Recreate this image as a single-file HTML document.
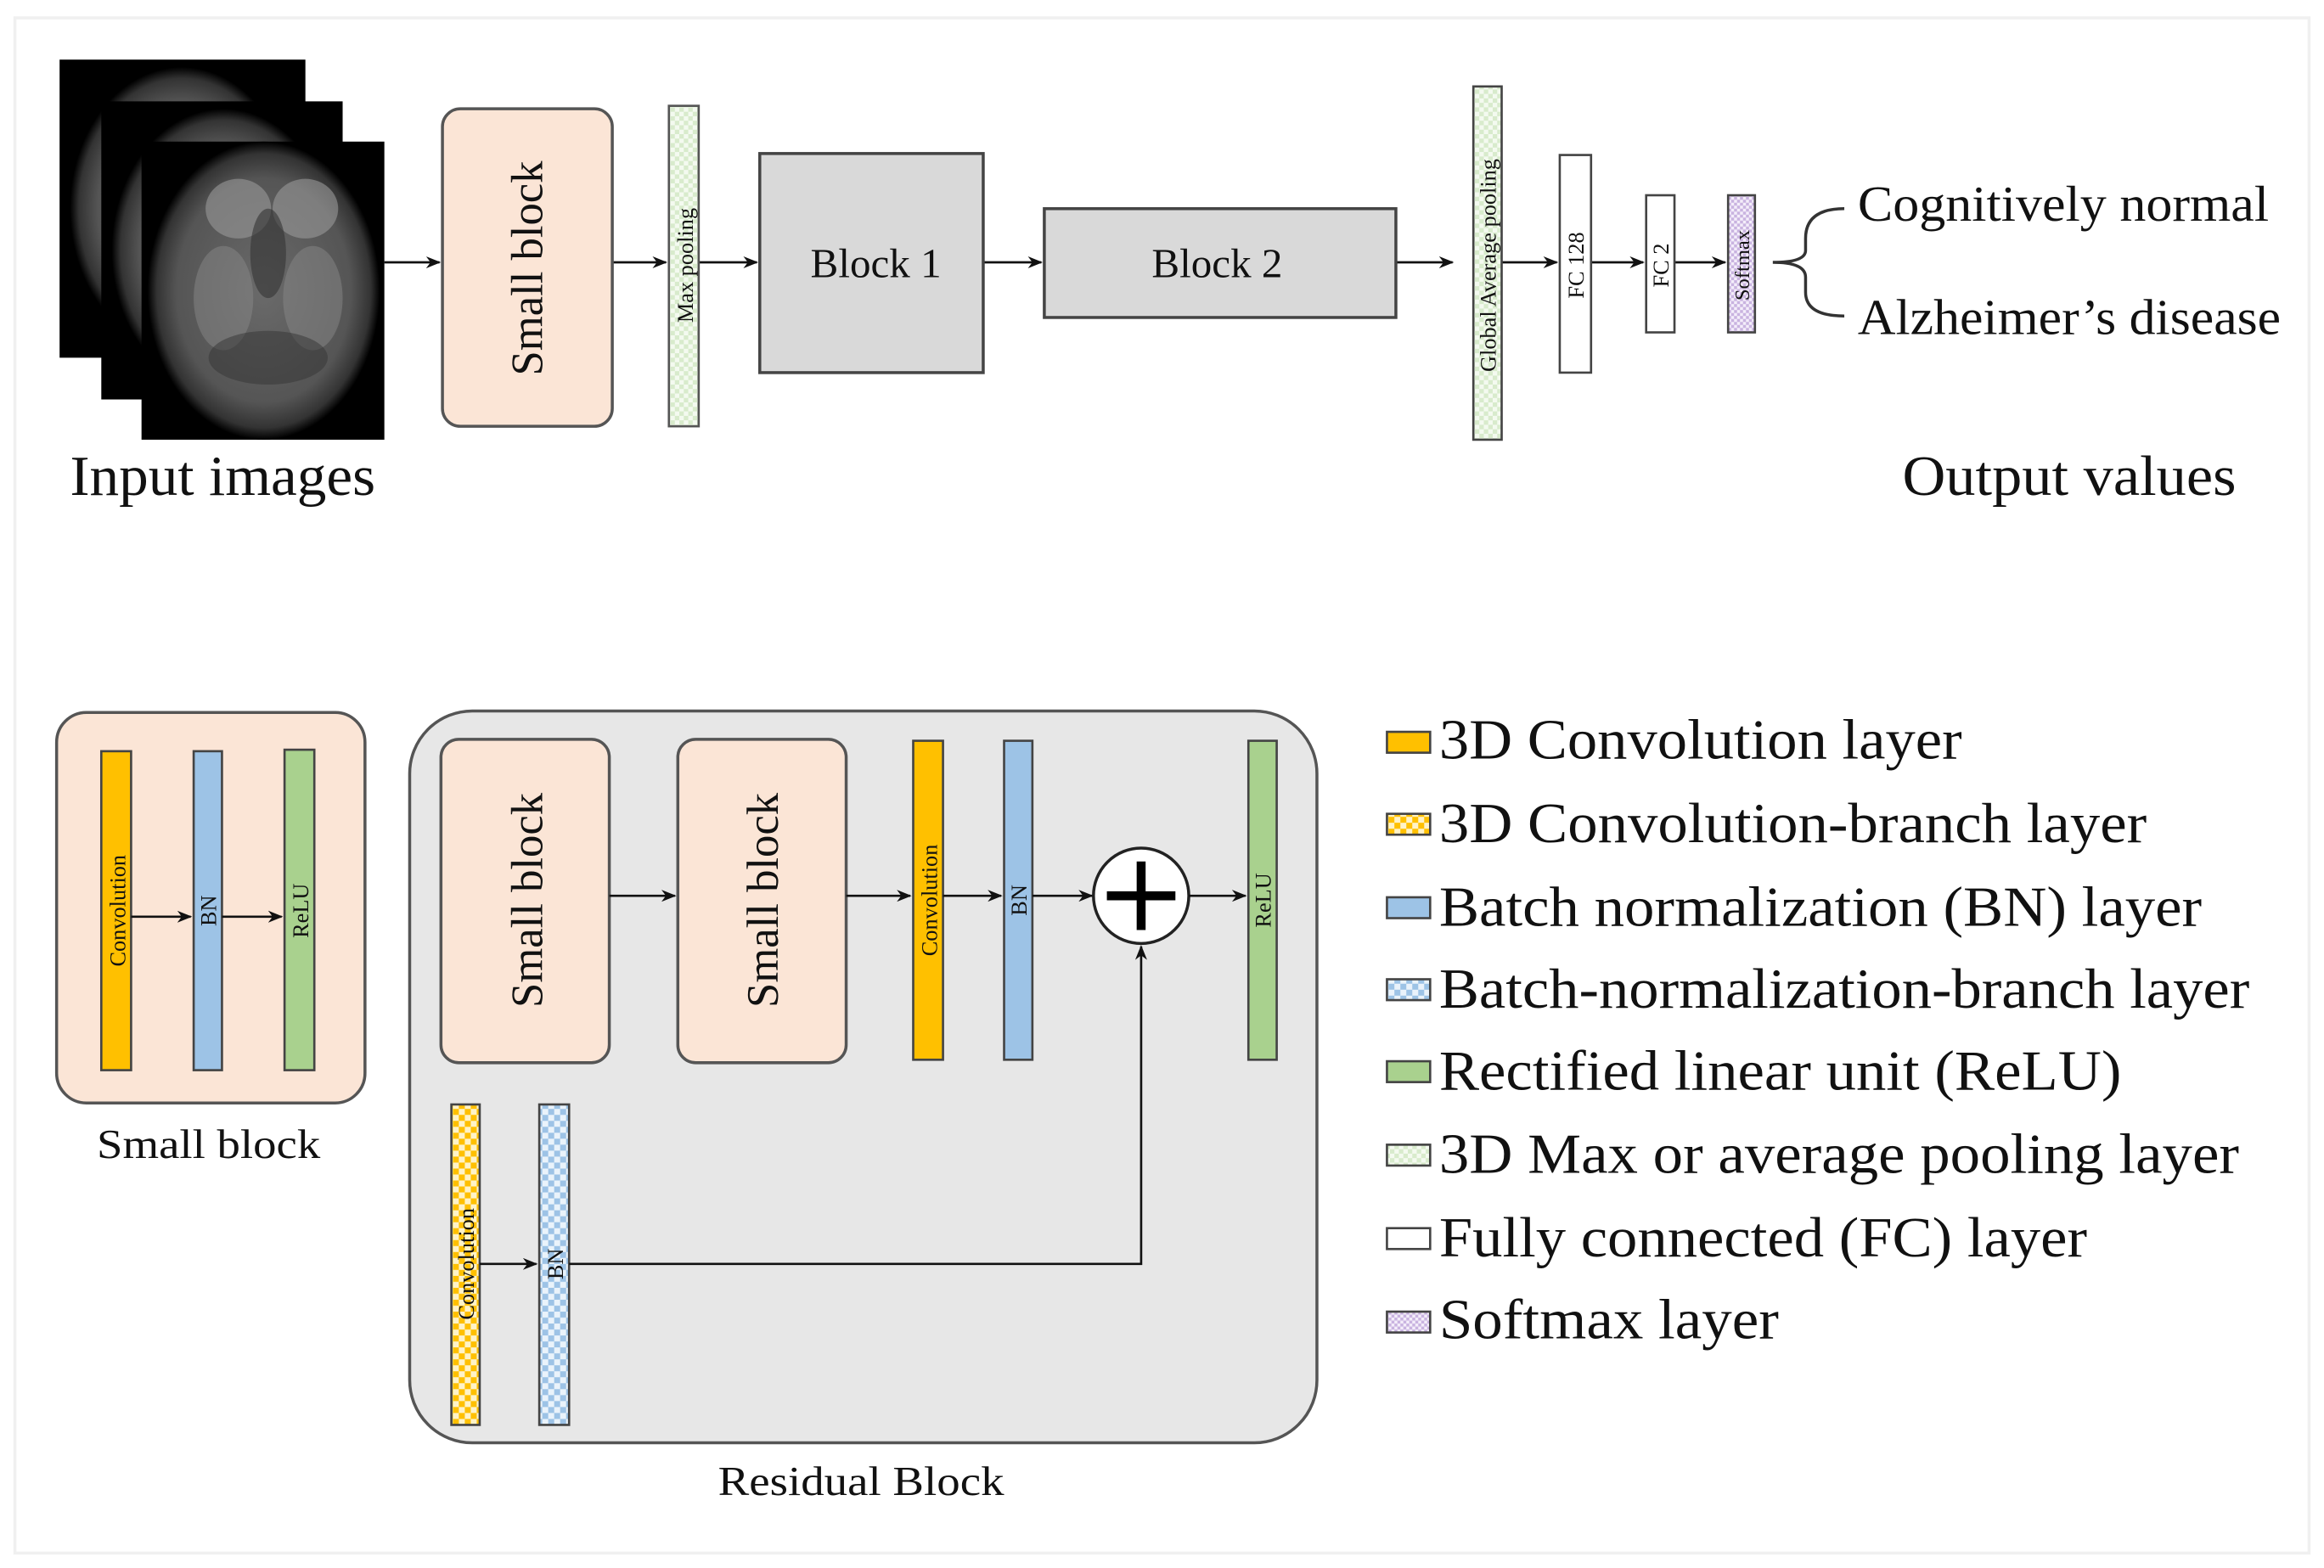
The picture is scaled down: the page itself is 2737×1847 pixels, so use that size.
<!DOCTYPE html>
<html><head><meta charset="utf-8"><style>
html,body{margin:0;padding:0;background:#fff;}
svg{display:block;}
text{font-family:"Liberation Serif",serif;fill:#111;}
</style></head><body>
<svg width="2737" height="1847" viewBox="0 0 1560 1052" preserveAspectRatio="none" xmlns="http://www.w3.org/2000/svg">
<defs>
<marker id="a" markerWidth="10" markerHeight="8" refX="9" refY="4" orient="auto" markerUnits="userSpaceOnUse"><path d="M0,0 L10,4 L0,8 L3,4z" fill="#111"/></marker>
<pattern id="pg" width="6" height="6" patternUnits="userSpaceOnUse"><rect width="6" height="6" fill="#f4faf0"/><rect width="3" height="3" fill="#d8ebcc"/><rect x="3" y="3" width="3" height="3" fill="#d8ebcc"/></pattern>
<pattern id="po" width="8" height="8" patternUnits="userSpaceOnUse"><rect width="8" height="8" fill="#fff3c8"/><rect width="4" height="4" fill="#ffc000"/><rect x="4" y="4" width="4" height="4" fill="#ffc000"/></pattern>
<pattern id="pb" width="8" height="8" patternUnits="userSpaceOnUse"><rect width="8" height="8" fill="#eaf3fb"/><rect width="4" height="4" fill="#9dc3e6"/><rect x="4" y="4" width="4" height="4" fill="#9dc3e6"/></pattern>
<pattern id="pp" width="4" height="4" patternUnits="userSpaceOnUse"><rect width="4" height="4" fill="#f4eefa"/><rect width="2" height="2" fill="#c9b3e0"/><rect x="2" y="2" width="2" height="2" fill="#c9b3e0"/></pattern>
<radialGradient id="br" cx="50%" cy="50%" r="50%"><stop offset="0" stop-color="#6a6a6a"/><stop offset="0.75" stop-color="#555"/><stop offset="0.92" stop-color="#333"/><stop offset="1" stop-color="#000"/></radialGradient>
</defs>
<rect x="10" y="12" width="1540" height="1030" fill="none" stroke="#f0f0f0" stroke-width="2"/>
<rect x="40" y="40" width="165" height="200" fill="#000"/><ellipse cx="122" cy="140" rx="75" ry="95" fill="url(#br)"/>
<rect x="68" y="68" width="162" height="200" fill="#000"/><ellipse cx="150" cy="168" rx="75" ry="95" fill="url(#br)"/>
<rect x="95" y="95" width="163" height="200" fill="#000"/><ellipse cx="177" cy="195" rx="78" ry="100" fill="url(#br)"/>
<ellipse cx="160" cy="140" rx="22" ry="20" fill="#999" opacity="0.6"/><ellipse cx="205" cy="140" rx="22" ry="20" fill="#999" opacity="0.6"/>
<ellipse cx="150" cy="200" rx="20" ry="35" fill="#888" opacity="0.5"/><ellipse cx="210" cy="200" rx="20" ry="35" fill="#888" opacity="0.5"/>
<ellipse cx="180" cy="170" rx="12" ry="30" fill="#333" opacity="0.6"/><ellipse cx="180" cy="240" rx="40" ry="18" fill="#333" opacity="0.5"/>
<text x="47" y="332" font-size="38" textLength="205" lengthAdjust="spacingAndGlyphs">Input images</text>
<g stroke="#111" stroke-width="1.5" fill="none" marker-end="url(#a)">
<line x1="258" y1="176" x2="295" y2="176"/><line x1="411" y1="176" x2="447" y2="176"/><line x1="469" y1="176" x2="508" y2="176"/><line x1="660" y1="176" x2="699" y2="176"/><line x1="937" y1="176" x2="975" y2="176"/><line x1="1008" y1="176" x2="1045" y2="176"/><line x1="1068" y1="176" x2="1103" y2="176"/><line x1="1124" y1="176" x2="1158" y2="176"/>
</g>
<rect x="297" y="73" width="114" height="213" rx="12" fill="#fbe5d6" stroke="#555" stroke-width="2"/>
<text transform="translate(364,180) rotate(-90)" text-anchor="middle" font-size="30">Small block</text>
<rect x="449" y="71" width="20" height="215" fill="url(#pg)" stroke="#555" stroke-width="1.5"/>
<text transform="translate(465,178) rotate(-90)" text-anchor="middle" font-size="15">Max pooling</text>
<rect x="510" y="103" width="150" height="147" fill="#d9d9d9" stroke="#444" stroke-width="2"/>
<text x="588" y="186" text-anchor="middle" font-size="28">Block 1</text>
<rect x="701" y="140" width="236" height="73" fill="#d9d9d9" stroke="#444" stroke-width="2"/>
<text x="817" y="186" text-anchor="middle" font-size="28">Block 2</text>
<rect x="989" y="58" width="19" height="237" fill="url(#pg)" stroke="#444" stroke-width="1.5"/>
<text transform="translate(1004,178) rotate(-90)" text-anchor="middle" font-size="15">Global Average pooling</text>
<rect x="1047" y="104" width="21" height="146" fill="#fff" stroke="#444" stroke-width="1.5"/>
<text transform="translate(1063,178) rotate(-90)" text-anchor="middle" font-size="15">FC 128</text>
<rect x="1105" y="131" width="19" height="92" fill="#fff" stroke="#444" stroke-width="1.5"/>
<text transform="translate(1120,178) rotate(-90)" text-anchor="middle" font-size="15">FC 2</text>
<rect x="1160" y="131" width="18" height="92" fill="url(#pp)" stroke="#444" stroke-width="1.5"/>
<text transform="translate(1174,178) rotate(-90)" text-anchor="middle" font-size="14">Softmax</text>
<path d="M1238,140 Q1212,140 1212,160 L1212,168 Q1212,176 1190,176 Q1212,176 1212,186 L1212,196 Q1212,212 1238,212" fill="none" stroke="#333" stroke-width="2"/>
<text x="1247" y="148" font-size="34" textLength="276" lengthAdjust="spacingAndGlyphs">Cognitively normal</text>
<text x="1247" y="224" font-size="34" textLength="284" lengthAdjust="spacingAndGlyphs">Alzheimer’s disease</text>
<text x="1277" y="332" font-size="38" textLength="224" lengthAdjust="spacingAndGlyphs">Output values</text>
<rect x="38" y="478" width="207" height="262" rx="20" fill="#fbe5d6" stroke="#555" stroke-width="2"/>
<rect x="68" y="504" width="20" height="214" fill="#ffc000" stroke="#444" stroke-width="1.5"/>
<text transform="translate(84,611) rotate(-90)" text-anchor="middle" font-size="15">Convolution</text>
<rect x="130" y="504" width="19" height="214" fill="#9dc3e6" stroke="#444" stroke-width="1.5"/>
<text transform="translate(145,611) rotate(-90)" text-anchor="middle" font-size="15">BN</text>
<rect x="191" y="503" width="20" height="215" fill="#a9d18e" stroke="#444" stroke-width="1.5"/>
<text transform="translate(207,611) rotate(-90)" text-anchor="middle" font-size="15">ReLU</text>
<g stroke="#111" stroke-width="1.5" marker-end="url(#a)"><line x1="88" y1="615" x2="128" y2="615"/><line x1="149" y1="615" x2="189" y2="615"/></g>
<text x="140" y="777" text-anchor="middle" font-size="28" textLength="150" lengthAdjust="spacingAndGlyphs">Small block</text>
<rect x="275" y="477" width="609" height="491" rx="42" fill="#e7e7e7" stroke="#555" stroke-width="2"/>
<rect x="296" y="496" width="113" height="217" rx="12" fill="#fbe5d6" stroke="#555" stroke-width="2"/>
<text transform="translate(364,604) rotate(-90)" text-anchor="middle" font-size="30">Small block</text>
<rect x="455" y="496" width="113" height="217" rx="12" fill="#fbe5d6" stroke="#555" stroke-width="2"/>
<text transform="translate(522,604) rotate(-90)" text-anchor="middle" font-size="30">Small block</text>
<rect x="613" y="497" width="20" height="214" fill="#ffc000" stroke="#444" stroke-width="1.5"/>
<text transform="translate(629,604) rotate(-90)" text-anchor="middle" font-size="15">Convolution</text>
<rect x="674" y="497" width="19" height="214" fill="#9dc3e6" stroke="#444" stroke-width="1.5"/>
<text transform="translate(689,604) rotate(-90)" text-anchor="middle" font-size="15">BN</text>
<rect x="838" y="497" width="19" height="214" fill="#a9d18e" stroke="#444" stroke-width="1.5"/>
<text transform="translate(853,604) rotate(-90)" text-anchor="middle" font-size="15">ReLU</text>
<circle cx="766" cy="601" r="32" fill="#fff" stroke="#222" stroke-width="2"/>
<path d="M766,578 V624 M743,601 H789" stroke="#000" stroke-width="6"/>
<rect x="303" y="741" width="19" height="215" fill="url(#po)" stroke="#444" stroke-width="1.5"/>
<text transform="translate(318,848) rotate(-90)" text-anchor="middle" font-size="15">Convolution</text>
<rect x="362" y="741" width="20" height="215" fill="url(#pb)" stroke="#444" stroke-width="1.5"/>
<text transform="translate(378,848) rotate(-90)" text-anchor="middle" font-size="15">BN</text>
<g stroke="#111" stroke-width="1.5" fill="none" marker-end="url(#a)">
<line x1="409" y1="601" x2="453" y2="601"/><line x1="568" y1="601" x2="611" y2="601"/><line x1="633" y1="601" x2="672" y2="601"/><line x1="693" y1="601" x2="733" y2="601"/><line x1="798" y1="601" x2="836" y2="601"/>
<line x1="322" y1="848" x2="360" y2="848"/><polyline points="382,848 766,848 766,635"/>
</g>
<text x="578" y="1003" text-anchor="middle" font-size="28" textLength="192" lengthAdjust="spacingAndGlyphs">Residual Block</text>
<g stroke="#444" stroke-width="1.5">
<rect x="931" y="491" width="29" height="14" fill="#ffc000"/>
<rect x="931" y="546" width="29" height="14" fill="url(#po)"/>
<rect x="931" y="602" width="29" height="14" fill="#9dc3e6"/>
<rect x="931" y="657" width="29" height="14" fill="url(#pb)"/>
<rect x="931" y="712" width="29" height="14" fill="#a9d18e"/>
<rect x="931" y="768" width="29" height="14" fill="url(#pg)"/>
<rect x="931" y="824" width="29" height="14" fill="#fff"/>
<rect x="931" y="880" width="29" height="14" fill="url(#pp)"/>
</g>
<g font-size="38">
<text x="966" y="509" textLength="351" lengthAdjust="spacingAndGlyphs">3D Convolution layer</text>
<text x="966" y="565" textLength="475" lengthAdjust="spacingAndGlyphs">3D Convolution-branch layer</text>
<text x="966" y="621" textLength="512" lengthAdjust="spacingAndGlyphs">Batch normalization (BN) layer</text>
<text x="966" y="676" textLength="544" lengthAdjust="spacingAndGlyphs">Batch-normalization-branch layer</text>
<text x="966" y="731" textLength="458" lengthAdjust="spacingAndGlyphs">Rectified linear unit (ReLU)</text>
<text x="966" y="787" textLength="537" lengthAdjust="spacingAndGlyphs">3D Max or average pooling layer</text>
<text x="966" y="843" textLength="435" lengthAdjust="spacingAndGlyphs">Fully connected (FC) layer</text>
<text x="966" y="898" textLength="228" lengthAdjust="spacingAndGlyphs">Softmax layer</text>
</g>
</svg>
</body></html>
